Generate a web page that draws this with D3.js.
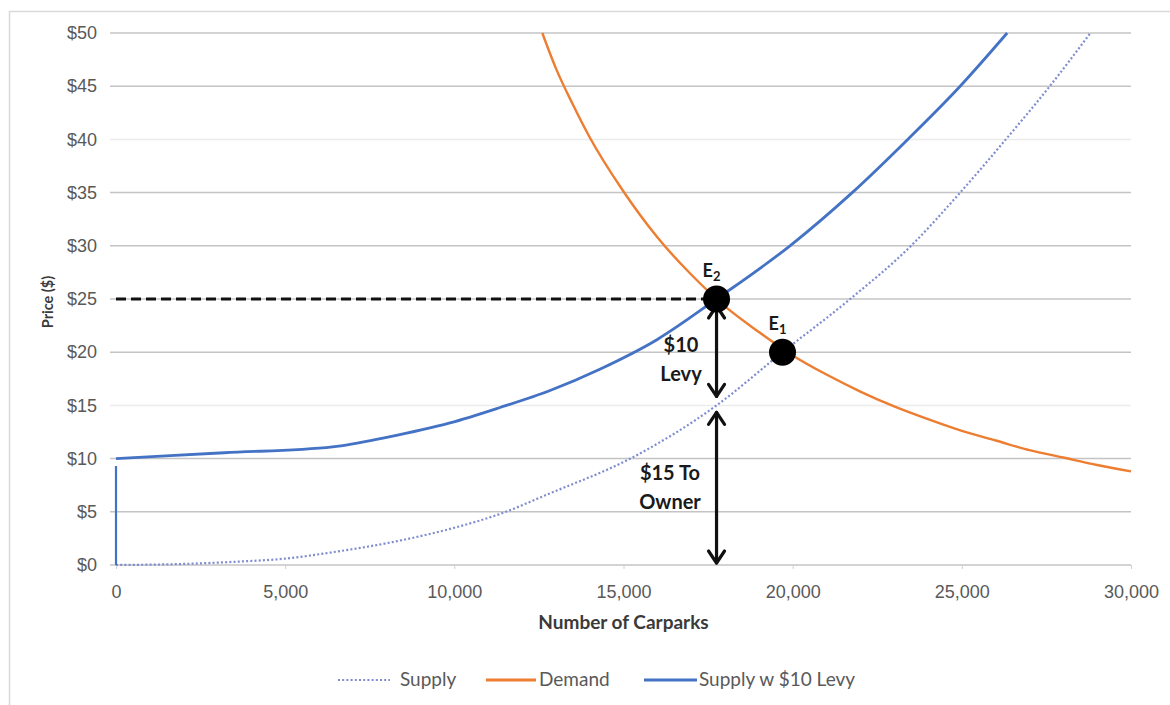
<!DOCTYPE html>
<html>
<head>
<meta charset="utf-8">
<script src="https://cdn.jsdelivr.net/npm/d3@7"></script>
<style>
  html, body { margin: 0; padding: 0; background: #fff; }
  svg { display: block; font-family: Lato, "Open Sans", "Liberation Sans", sans-serif; }
</style>
</head>
<body>
<svg id="chart" width="1170" height="705"></svg>
<script>
// Quantity of carparks (thousands) and price ($) for each curve
const supplyQty   = [0, 2, 3.5, 5, 6.4, 8.4, 10, 11.35, 12.8, 15.2, 17.75, 19.7, 21.7, 23.5, 24.95, 26.3, 27.6, 28.8];
const supplyPrice = [0, 0.1, 0.3, 0.6, 1.2, 2.3, 3.5, 4.8, 6.7, 10, 15, 20, 25, 30, 35, 40, 45, 50];

const demandQty   = [12.6, 13, 13.5, 14, 15, 16, 17, 18, 19, 20, 21, 22, 23, 24, 25, 26, 27, 28, 29, 30];
const demandPrice = [50, 46.7, 43.3, 40.2, 35.1, 30.8, 27.3, 24.3, 21.9, 19.7, 17.9, 16.3, 14.9, 13.7, 12.6, 11.7, 10.8, 10.1, 9.4, 8.8];

const levyQty     = [0, 3.2, 6.4, 8, 9.87, 11.35, 12.83, 14.3, 16, 17.75, 19.92, 21.76, 23.4, 24.95, 26.34];
const levyPrice   = [10, 10.55, 11.1, 12.0, 13.35, 14.8, 16.4, 18.4, 21.2, 25, 30, 35, 40, 45, 50];

// Stub of the levy series at zero quantity
const levyStubQty   = [0, 0];
const levyStubPrice = [9.3, 0];

// Equilibrium points
const eqNames = ["E2", "E1"];
const eqQty   = [17.75, 19.7];
const eqPrice = [25, 20];

// Price split of the levied equilibrium
const splitTop    = [25, 15];
const splitBottom = [15, 0];
const splitLines  = [["$10", "Levy"], ["$15 To", "Owner"]];

const yTicks = [0, 5, 10, 15, 20, 25, 30, 35, 40, 45, 50];
const faintTicks = [15, 40];
const xTicks = [0, 5, 10, 15, 20, 25, 30];

const seriesNames = ["Supply", "Demand", "Supply w $10 Levy"];

const svg = d3.select("#chart");
const W = 1170, H = 705;
const plot = { left: 116, right: 1131, top: 33, bottom: 565 };

const x = d3.scaleLinear().domain([0, 30]).range([plot.left, plot.right]);
const y = d3.scaleLinear().domain([0, 50]).range([plot.bottom, plot.top]);

const BLUE = "#4472C4", ORANGE = "#ED7D31", DOT = "#7f8ccf";
const LABEL = "#595959", TITLE = "#3a3a3a";

// Outer chart frame
svg.append("rect")
  .attr("x", 9.5).attr("y", 11.5).attr("width", W).attr("height", H)
  .attr("fill", "none").attr("stroke", "#d9d9d9").attr("stroke-width", 1.5);

// Horizontal gridlines
svg.append("g").selectAll("line").data(yTicks).join("line")
  .attr("x1", plot.left - 6).attr("x2", plot.right)
  .attr("y1", d => y(d)).attr("y2", d => y(d))
  .attr("stroke", d => faintTicks.includes(d) ? "#ececec" : "#c4c4c4")
  .attr("stroke-width", 1.5);

// Y axis labels
const yAxis = d3.axisLeft(y).tickValues(yTicks).tickSize(0).tickPadding(19).tickFormat(d => "$" + d);
svg.append("g").attr("transform", `translate(${plot.left},0)`).call(yAxis)
  .call(g => g.select(".domain").remove())
  .call(g => g.selectAll("text").attr("fill", LABEL).attr("font-size", 18));

// X axis labels with small tick marks
const xAxis = d3.axisBottom(x).tickValues(xTicks).tickSize(4).tickPadding(16)
  .tickFormat(d => d3.format(",")(d * 1000));
svg.append("g").attr("transform", `translate(0,${plot.bottom})`).call(xAxis)
  .call(g => g.select(".domain").remove())
  .call(g => g.selectAll("line").attr("stroke", "#d0d0d0"))
  .call(g => g.selectAll("text").attr("fill", LABEL).attr("font-size", 18));

// Axis titles
svg.append("text").attr("x", (plot.left + plot.right) / 2 + 0).attr("y", 629)
  .attr("text-anchor", "middle").attr("font-size", 19).attr("font-weight", "bold")
  .attr("fill", TITLE).text("Number of Carparks");
svg.append("text").attr("transform", `translate(53,302) rotate(-90)`)
  .attr("text-anchor", "middle").attr("font-size", 14.5).attr("font-weight", "bold")
  .attr("fill", TITLE).text("Price ($)");

// Clip the curves to the plotting area
svg.append("defs").append("clipPath").attr("id", "plotClip")
  .append("rect").attr("x", plot.left - 3).attr("y", plot.top - 1)
  .attr("width", plot.right - plot.left + 6).attr("height", plot.bottom - plot.top + 3);

const line = d3.line().x(d => x(d[0])).y(d => y(d[1])).curve(d3.curveMonotoneX);
const curves = svg.append("g").attr("clip-path", "url(#plotClip)");

curves.append("path").datum(d3.zip(supplyQty, supplyPrice)).attr("d", line)
  .attr("fill", "none").attr("stroke", DOT).attr("stroke-width", 2.2).attr("stroke-dasharray", "2,2.2");

curves.append("path").datum(d3.zip(demandQty, demandPrice)).attr("d", line)
  .attr("fill", "none").attr("stroke", ORANGE).attr("stroke-width", 2.4);

curves.append("path").datum(d3.zip(levyQty, levyPrice)).attr("d", line)
  .attr("fill", "none").attr("stroke", BLUE).attr("stroke-width", 2.8);

curves.append("path").datum(d3.zip(levyStubQty, levyStubPrice))
  .attr("d", d3.line().x(d => x(d[0])).y(d => y(d[1])))
  .attr("fill", "none").attr("stroke", BLUE).attr("stroke-width", 2.2);

// Dashed line from the price axis to the levied equilibrium
svg.append("line")
  .attr("x1", x(0)).attr("x2", x(eqQty[0]))
  .attr("y1", y(eqPrice[0])).attr("y2", y(eqPrice[0]))
  .attr("stroke", "#111").attr("stroke-width", 3.2).attr("stroke-dasharray", "10,5");

// Double-headed arrows showing how the price is split
const ax = x(eqQty[0]);
const head = 12, half = 8;
function doubleArrow(yTop, yBot) {
  const g = svg.append("g").attr("stroke", "#111").attr("stroke-width", 3.2)
    .attr("fill", "none").attr("stroke-linecap", "round").attr("stroke-linejoin", "round");
  g.append("line").attr("x1", ax).attr("x2", ax).attr("y1", yTop).attr("y2", yBot);
  g.append("path").attr("d", `M${ax - half},${yTop + head} L${ax},${yTop} L${ax + half},${yTop + head}`);
  g.append("path").attr("d", `M${ax - half},${yBot - head} L${ax},${yBot} L${ax + half},${yBot - head}`);
}
splitTop.forEach((top, i) => {
  doubleArrow(y(top) + 7, y(splitBottom[i]) - (i === 0 ? 9 : 2));
});

// Split labels
const labelPos = [[681, 352], [670, 480]];
splitLines.forEach((lines, i) => {
  const t = svg.append("text").attr("text-anchor", "middle")
    .attr("font-size", 20).attr("font-weight", "bold").attr("fill", "#1a1a1a");
  lines.forEach((s, j) => {
    t.append("tspan").attr("x", labelPos[i][0]).attr("y", labelPos[i][1] + j * 29).text(s);
  });
});

// Equilibrium markers
svg.append("g").selectAll("circle").data(d3.range(eqNames.length)).join("circle")
  .attr("cx", i => x(eqQty[i])).attr("cy", i => y(eqPrice[i]))
  .attr("r", 13.5).attr("fill", "#000");

// Equilibrium labels with subscripts
eqNames.forEach((name, i) => {
  const t = svg.append("text").attr("x", x(eqQty[i]) - 14).attr("y", y(eqPrice[i]) - 22)
    .attr("font-size", 18).attr("font-weight", "bold").attr("fill", "#1a1a1a");
  t.append("tspan").text(name[0]);
  t.append("tspan").attr("font-size", 13).attr("dy", 4).text(name.slice(1));
});

// Legend
const legend = svg.append("g").attr("font-size", 19).attr("fill", LABEL);
const legendItems = [
  { x1: 338, x2: 390, gap: 10, color: DOT, dash: "2,2.2", w: 2.2 },
  { x1: 486, x2: 536, gap: 3, color: ORANGE, dash: null, w: 2.8 },
  { x1: 644, x2: 697, gap: 2, color: BLUE, dash: null, w: 2.8 }
];
const legendY = 680;
legendItems.forEach((it, i) => {
  legend.append("line").attr("x1", it.x1).attr("x2", it.x2).attr("y1", legendY).attr("y2", legendY)
    .attr("stroke", it.color).attr("stroke-width", it.w).attr("stroke-dasharray", it.dash);
  legend.append("text").attr("x", it.x2 + it.gap).attr("y", legendY + 6).attr("fill", LABEL)
    .text(seriesNames[i]);
});
</script>
</body>
</html>
